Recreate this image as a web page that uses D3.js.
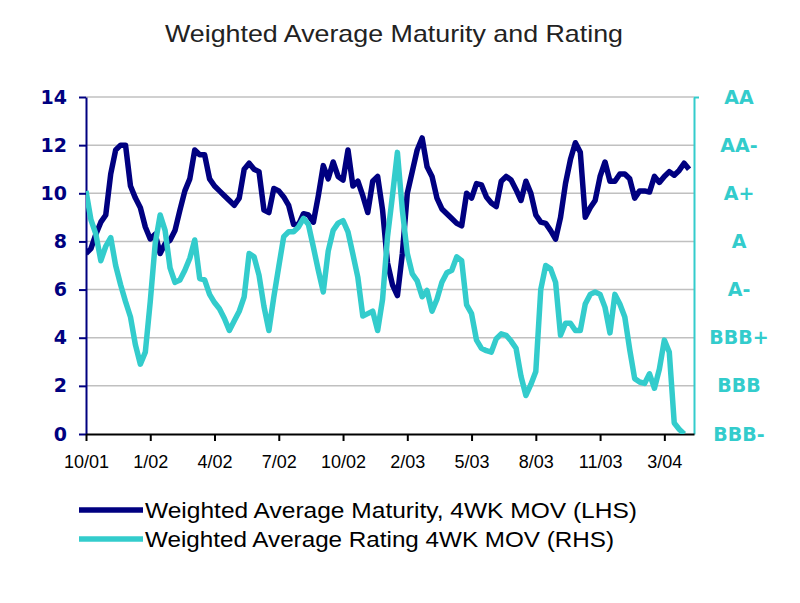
<!DOCTYPE html>
<html>
<head>
<meta charset="utf-8">
<script src="https://cdn.jsdelivr.net/npm/d3@7"></script>
<style>
  html, body { margin: 0; padding: 0; background: #fff; }
  svg { display: block; }
</style>
</head>
<body>
<svg id="chart" width="800" height="603"></svg>
<script>
// ---- data (weekly, 4-week moving averages) ----
const xTickLabels = ["10/01","1/02","4/02","7/02","10/02","2/03","5/03","8/03","11/03","3/04"];
const xTickEvery = 13; // weeks between category labels
const leftTicks = [0, 2, 4, 6, 8, 10, 12, 14];
const ratingLabels = ["BBB-","BBB","BBB+","A-","A","A+","AA-","AA"];

const maturity = [7.5,7.7,8.3,8.8,9.1,10.8,11.8,12.0,12.0,10.3,
 9.8,9.4,8.6,8.1,8.3,7.5,7.9,8.05,8.45,9.3,
 10.1,10.6,11.8,11.6,11.6,10.6,10.3,10.1,9.9,9.7,
 9.5,9.8,11.0,11.25,11.0,10.9,9.3,9.2,10.2,10.1,
 9.85,9.5,8.7,8.7,9.15,9.1,8.8,9.9,11.15,10.6,
 11.3,10.7,10.55,11.8,10.3,10.5,9.9,9.2,10.5,10.7,
 9.3,7.1,6.2,5.75,7.5,10.0,10.9,11.8,12.3,11.1,
 10.7,9.8,9.35,9.15,8.95,8.75,8.65,10.0,9.8,10.4,
 10.35,9.85,9.6,9.45,10.5,10.7,10.55,10.15,9.7,10.5,
 10.0,9.1,8.8,8.75,8.45,8.1,9.0,10.4,11.4,12.1,
 11.7,9.0,9.4,9.7,10.7,11.3,10.5,10.5,10.8,10.8,
 10.6,9.8,10.1,10.1,10.05,10.7,10.45,10.7,10.9,10.75,
 10.95,11.25,11.0];

// rating index: 0 = BBB-, 1 = BBB, ... 7 = AA
const rating = [5.05,4.45,4.15,3.6,3.9,4.08,3.5,3.1,2.75,2.43,
 1.85,1.45,1.7,2.75,3.95,4.55,4.23,3.45,3.15,3.2,
 3.4,3.65,4.03,3.23,3.2,2.9,2.73,2.6,2.4,2.15,
 2.35,2.55,2.85,3.75,3.68,3.3,2.65,2.15,2.85,3.48,
 4.1,4.2,4.2,4.3,4.48,4.35,3.88,3.4,2.95,3.8,
 4.23,4.38,4.43,4.2,3.73,3.25,2.45,2.5,2.55,2.15,
 2.8,4.1,4.95,5.85,4.65,3.75,3.33,3.18,2.85,2.98,
 2.55,2.8,3.15,3.35,3.4,3.68,3.6,2.68,2.5,1.95,
 1.78,1.73,1.7,1.98,2.08,2.05,1.93,1.78,1.2,0.8,
 1.03,1.3,3.0,3.5,3.43,3.15,2.05,2.3,2.3,2.15,
 2.15,2.7,2.9,2.95,2.9,2.63,2.1,2.9,2.7,2.43,
 1.75,1.15,1.08,1.05,1.25,0.95,1.35,1.95,1.7,0.23,
 0.1,0.0];

const seriesNames = ["Weighted Average Maturity, 4WK MOV (LHS)", "Weighted Average Rating 4WK MOV (RHS)"];
const titleText = "Weighted Average Maturity and Rating";

// ---- layout ----
const navy = "#000080", cyan = "#33CCCC";
const plot = { left: 86, right: 694, top: 97, bottom: 434 };
const nWeeks = 124;

const svg = d3.select("#chart");

const x = d3.scaleLinear().domain([0, nWeeks - 1]).range([plot.left, plot.right]);
const yL = d3.scaleLinear().domain([0, 14]).range([plot.bottom, plot.top]);
const yR = d3.scaleLinear().domain([0, 7]).range([plot.bottom, plot.top]);

// title
svg.append("text")
  .attr("x", 394).attr("y", 42)
  .attr("text-anchor", "middle")
  .attr("font-family", "Liberation Sans, Arial, sans-serif")
  .attr("font-size", 24)
  .attr("fill", "#222")
  .attr("textLength", 458)
  .attr("lengthAdjust", "spacingAndGlyphs")
  .text(titleText);

// gridlines
svg.append("g")
  .selectAll("line")
  .data(leftTicks.filter(d => d > 0))
  .join("line")
  .attr("x1", plot.left).attr("x2", plot.right)
  .attr("y1", d => yL(d)).attr("y2", d => yL(d))
  .attr("stroke", "#c0c0c0").attr("stroke-width", 1.5);

// clip
svg.append("clipPath").attr("id", "clip")
  .append("rect")
  .attr("x", plot.left).attr("y", plot.top - 10)
  .attr("width", plot.right - plot.left).attr("height", plot.bottom - plot.top + 10);

// left axis
const gL = svg.append("g").attr("transform", `translate(${plot.left},0)`)
  .call(d3.axisLeft(yL).tickValues(leftTicks).tickSize(7).tickPadding(12).tickSizeOuter(0));
gL.select(".domain").attr("stroke", navy).attr("stroke-width", 2);
gL.selectAll(".tick line").attr("stroke", navy).attr("stroke-width", 2);
gL.selectAll(".tick text")
  .attr("fill", navy)
  .attr("font-family", "DejaVu Sans, sans-serif")
  .attr("font-weight", "bold")
  .attr("font-size", 19);

// right axis
const gR = svg.append("g").attr("transform", `translate(${plot.right},0)`)
  .call(d3.axisRight(yR).tickValues([7]).tickSize(5).tickFormat("").tickSizeOuter(0));
gR.select(".domain").attr("stroke", cyan).attr("stroke-width", 2);
gR.selectAll(".tick line").attr("stroke", cyan).attr("stroke-width", 2);

const gRL = svg.append("g").attr("transform", `translate(${plot.right},0)`)
  .call(d3.axisRight(yR).tickValues(d3.range(ratingLabels.length)).tickSize(0).tickPadding(45)
    .tickFormat(d => ratingLabels[d]));
gRL.select(".domain").remove();
gRL.selectAll(".tick text")
  .attr("text-anchor", "middle")
  .attr("fill", cyan)
  .attr("font-family", "DejaVu Sans, sans-serif")
  .attr("font-weight", "bold")
  .attr("font-size", 19);

// bottom axis
const gX = svg.append("g").attr("transform", `translate(0,${plot.bottom})`)
  .call(d3.axisBottom(x)
    .tickValues(xTickLabels.map((_, i) => i * xTickEvery))
    .tickSize(7).tickPadding(14).tickSizeOuter(0)
    .tickFormat((d, i) => xTickLabels[i]));
gX.select(".domain").attr("stroke", "#000").attr("stroke-width", 2);
gX.selectAll(".tick line").attr("stroke", "#000").attr("stroke-width", 2);
gX.selectAll(".tick text")
  .attr("fill", "#000")
  .attr("font-family", "Liberation Sans, Arial, sans-serif")
  .attr("font-size", 18);

// lines
const lineL = d3.line().x((d, i) => x(i)).y(d => yL(d));
const lineR = d3.line().x((d, i) => x(i)).y(d => yR(d));

const gLines = svg.append("g").attr("clip-path", "url(#clip)");
gLines.append("path").datum(maturity)
  .attr("d", lineL).attr("fill", "none")
  .attr("stroke", navy).attr("stroke-width", 5.5)
  .attr("stroke-linejoin", "round");
gLines.append("path").datum(rating)
  .attr("d", lineR).attr("fill", "none")
  .attr("stroke", cyan).attr("stroke-width", 5.5)
  .attr("stroke-linejoin", "round");

// legend
const legendItems = [
  { name: seriesNames[0], color: navy, y: 510, len: 492 },
  { name: seriesNames[1], color: cyan, y: 539, len: 469 }
];
const gLeg = svg.append("g");
legendItems.forEach(it => {
  gLeg.append("line")
    .attr("x1", 79).attr("x2", 143).attr("y1", it.y).attr("y2", it.y)
    .attr("stroke", it.color).attr("stroke-width", 5.5);
  gLeg.append("text")
    .attr("x", 145).attr("y", it.y + 8)
    .attr("font-family", "Liberation Sans, Arial, sans-serif")
    .attr("font-size", 22)
    .attr("fill", "#000")
    .attr("textLength", it.len)
    .attr("lengthAdjust", "spacingAndGlyphs")
    .text(it.name);
});
</script>
</body>
</html>
